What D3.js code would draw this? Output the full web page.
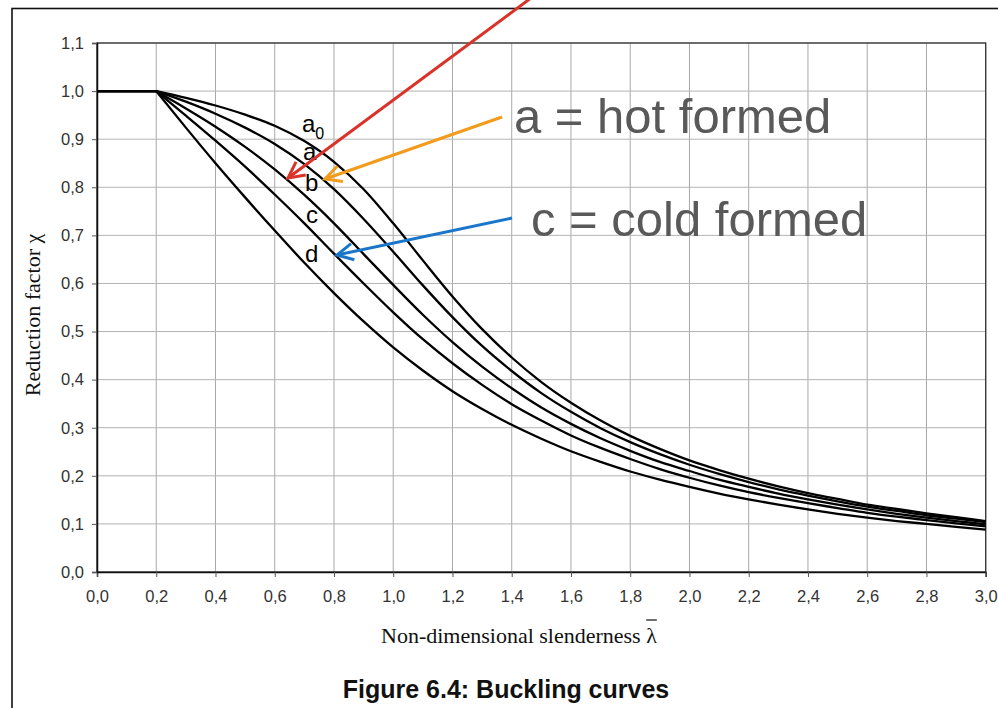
<!DOCTYPE html>
<html>
<head>
<meta charset="utf-8">
<script src="https://cdn.jsdelivr.net/npm/d3@7"></script>
<style>
  html, body { margin: 0; padding: 0; background: #fff; }
  svg { display: block; }
  .axis text { font-family: Arial, "Liberation Sans", sans-serif; font-size: 16.5px; fill: #333; }
</style>
</head>
<body>
<div id="chart"></div>
<script>
// slenderness values (x)
var lambda = [0.0, 0.1, 0.2, 0.3, 0.4, 0.5, 0.6, 0.7, 0.8, 0.9, 1.0,
              1.1, 1.2, 1.3, 1.4, 1.5, 1.6, 1.7, 1.8, 1.9, 2.0,
              2.1, 2.2, 2.3, 2.4, 2.5, 2.6, 2.7, 2.8, 2.9, 3.0];

// reduction factor per buckling curve
var curveA0 = [1, 1, 1, 0.986, 0.970, 0.951, 0.928, 0.896, 0.853, 0.796, 0.725,
               0.648, 0.573, 0.505, 0.446, 0.395, 0.352, 0.315, 0.283, 0.256, 0.232,
               0.212, 0.194, 0.178, 0.164, 0.152, 0.140, 0.131, 0.122, 0.114, 0.106];
var curveA  = [1, 1, 1, 0.978, 0.953, 0.924, 0.890, 0.848, 0.796, 0.734, 0.666,
               0.596, 0.530, 0.470, 0.418, 0.372, 0.333, 0.299, 0.270, 0.245, 0.223,
               0.204, 0.187, 0.172, 0.159, 0.147, 0.136, 0.127, 0.118, 0.111, 0.104];
var curveB  = [1, 1, 1, 0.964, 0.926, 0.884, 0.837, 0.784, 0.725, 0.661, 0.597,
               0.535, 0.478, 0.427, 0.382, 0.342, 0.308, 0.278, 0.252, 0.229, 0.210,
               0.192, 0.177, 0.163, 0.151, 0.140, 0.130, 0.121, 0.113, 0.106, 0.099];
var curveC  = [1, 1, 1, 0.949, 0.897, 0.843, 0.785, 0.725, 0.662, 0.600, 0.540,
               0.484, 0.434, 0.389, 0.349, 0.315, 0.284, 0.258, 0.235, 0.214, 0.196,
               0.180, 0.166, 0.154, 0.143, 0.133, 0.123, 0.115, 0.108, 0.101, 0.095];
var curveD  = [1, 1, 1, 0.924, 0.850, 0.779, 0.710, 0.643, 0.580, 0.521, 0.467,
               0.419, 0.376, 0.339, 0.306, 0.277, 0.251, 0.229, 0.209, 0.192, 0.177,
               0.163, 0.151, 0.140, 0.130, 0.121, 0.113, 0.106, 0.100, 0.094, 0.088];

var seriesNames = ["a0", "a", "b", "c", "d"];
var seriesValues = [curveA0, curveA, curveB, curveC, curveD];

var xTicks = [0, 0.2, 0.4, 0.6, 0.8, 1.0, 1.2, 1.4, 1.6, 1.8, 2.0, 2.2, 2.4, 2.6, 2.8, 3.0];
var yTicks = [0, 0.1, 0.2, 0.3, 0.4, 0.5, 0.6, 0.7, 0.8, 0.9, 1.0, 1.1];

var W = 998, H = 708;
var margin = { top: 43, left: 97, right: 12.3, bottom: 136 },
    width = W - margin.left - margin.right,
    height = H - margin.top - margin.bottom;

var x = d3.scaleLinear().domain([0, 3]).range([0, width]);
var y = d3.scaleLinear().domain([0, 1.1]).range([height, 0]);
var comma = function(d) { return d3.format(".1f")(d).replace(".", ","); };

var root = d3.select("#chart").append("svg")
    .attr("width", W).attr("height", H);

// outer figure frame
root.append("rect")
    .attr("x", 12).attr("y", 8.5)
    .attr("width", 1010).attr("height", 720)
    .attr("fill", "none").attr("stroke", "#111").attr("stroke-width", 1.6);

var svg = root.append("g")
    .attr("transform", "translate(" + margin.left + "," + margin.top + ")");

// grid
svg.append("g").selectAll("line").data(xTicks).join("line")
    .attr("x1", d => x(d)).attr("x2", d => x(d))
    .attr("y1", 0).attr("y2", height)
    .attr("stroke", "#a8a8a8").attr("stroke-width", 1);
svg.append("g").selectAll("line").data(yTicks).join("line")
    .attr("x1", 0).attr("x2", width)
    .attr("y1", d => y(d)).attr("y2", d => y(d))
    .attr("stroke", "#b4b4b4").attr("stroke-width", 1);

// plot border
svg.append("rect")
    .attr("width", width).attr("height", height)
    .attr("fill", "none").attr("stroke", "#333").attr("stroke-width", 1.3);

// axes
var xAxis = svg.append("g").attr("class", "axis")
    .attr("transform", "translate(0," + height + ")")
    .call(d3.axisBottom(x).tickValues(xTicks).tickFormat(comma).tickSize(5).tickPadding(13));
var yAxis = svg.append("g").attr("class", "axis")
    .call(d3.axisLeft(y).tickValues(yTicks).tickFormat(comma).tickSize(5).tickPadding(8));
[xAxis, yAxis].forEach(function(a) {
    a.select(".domain").attr("stroke", "#111").attr("stroke-width", 1.5);
    a.selectAll(".tick line").attr("stroke", "#555");
});

// curves: flat plateau up to 0.2, then smooth decay
var line = d3.line()
    .x(d => x(d[0])).y(d => y(d[1]))
    .curve(d3.curveMonotoneX);
var flat = d3.line().x(d => x(d[0])).y(d => y(d[1]));

seriesValues.forEach(function(vals, k) {
    var pts = lambda.map((l, i) => [l, vals[i]]);
    svg.append("path")
        .attr("d", flat(pts.filter(p => p[0] <= 0.2)))
        .attr("fill", "none").attr("stroke", "#000").attr("stroke-width", 2.3);
    svg.append("path")
        .attr("class", "curve-" + seriesNames[k])
        .attr("d", line(pts.filter(p => p[0] >= 0.2 - 1e-9)))
        .attr("fill", "none").attr("stroke", "#000").attr("stroke-width", 2.3)
        .attr("stroke-linejoin", "round");
});

// curve labels
var labelFont = "Arial, 'Liberation Sans', sans-serif";
var labels = [
    { t: "a", sub: "0", px: 302, py: 132 },
    { t: "a", px: 303, py: 160 },
    { t: "b", px: 305, py: 191 },
    { t: "c", px: 306, py: 223 },
    { t: "d", px: 305, py: 262 }
];
labels.forEach(function(l) {
    var t = root.append("text")
        .attr("x", l.px).attr("y", l.py)
        .attr("font-family", labelFont).attr("font-size", 24).attr("fill", "#000")
        .text(l.t);
    if (l.sub) {
        t.append("tspan").attr("dy", 7).attr("font-size", 16).text(l.sub);
    }
});

// annotation arrows
var arrows = [
    { color: "#d9332a", from: [531, -2], to: [288, 178] },
    { color: "#f29b1c", from: [502, 117], to: [325, 179] },
    { color: "#1a76c8", from: [512, 218], to: [337, 255] }
];
arrows.forEach(function(a) {
    var ang = Math.atan2(a.from[1] - a.to[1], a.from[0] - a.to[0]);
    var len = 18, spread = 27 * Math.PI / 180;
    var p1 = [a.to[0] + len * Math.cos(ang - spread), a.to[1] + len * Math.sin(ang - spread)];
    var p2 = [a.to[0] + len * Math.cos(ang + spread), a.to[1] + len * Math.sin(ang + spread)];
    root.append("line")
        .attr("x1", a.from[0]).attr("y1", a.from[1])
        .attr("x2", a.to[0]).attr("y2", a.to[1])
        .attr("stroke", a.color).attr("stroke-width", 3);
    root.append("path")
        .attr("d", "M" + p1 + "L" + a.to + "L" + p2)
        .attr("fill", "none").attr("stroke", a.color).attr("stroke-width", 3)
        .attr("stroke-linejoin", "miter");
});

// big annotation text
root.append("text")
    .attr("x", 514).attr("y", 133)
    .attr("font-family", labelFont).attr("font-size", 49).attr("fill", "#595959")
    .text("a = hot formed");
root.append("text")
    .attr("x", 531).attr("y", 236)
    .attr("font-family", labelFont).attr("font-size", 49).attr("fill", "#595959")
    .text("c = cold formed");

// axis titles
var serif = "'Times New Roman', 'Liberation Serif', serif";
var xt = root.append("text")
    .attr("x", 381).attr("y", 643)
    .attr("font-family", serif).attr("font-size", 22).attr("fill", "#111")
    .text("Non-dimensional slenderness ");
var lam = xt.append("tspan").text("\u03BB");
var tl = xt.node().getComputedTextLength();
var lw = lam.node().getComputedTextLength();
root.append("line")
    .attr("x1", 381 + tl - lw).attr("x2", 381 + tl)
    .attr("y1", 620).attr("y2", 620)
    .attr("stroke", "#111").attr("stroke-width", 1.2);

root.append("text")
    .attr("transform", "translate(40,315) rotate(-90)")
    .attr("text-anchor", "middle")
    .attr("font-family", serif).attr("font-size", 22).attr("fill", "#111")
    .text("Reduction factor \u03C7");

// figure caption
root.append("text")
    .attr("x", 506).attr("y", 698)
    .attr("text-anchor", "middle")
    .attr("font-family", labelFont).attr("font-size", 25).attr("font-weight", "bold")
    .attr("fill", "#111")
    .text("Figure 6.4: Buckling curves");
</script>
</body>
</html>
